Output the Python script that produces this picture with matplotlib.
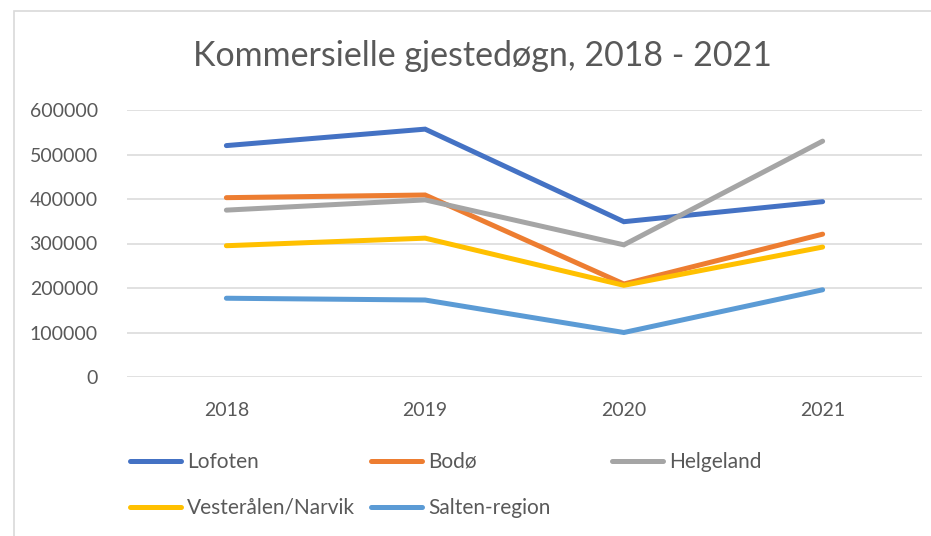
import matplotlib.pyplot as plt
import matplotlib.patches as mpatches

# ── Data ──────────────────────────────────────────────────────────────────────
years = ["2018", "2019", "2020", "2021"]
series_names = ["Lofoten", "Bodø", "Helgeland", "Vesterålen/Narvik", "Salten-region"]
lofoten    = [520000, 557000, 349000, 394000]
bodo       = [403000, 409000, 209000, 321000]
helgeland  = [375000, 398000, 297000, 530000]
vesteralen = [295000, 312000, 206000, 292000]
salten     = [177000, 173000, 100000, 196000]
colors = ["#4472C4", "#ED7D31", "#A5A5A5", "#FFC000", "#5B9BD5"]
yticks = [0, 100000, 200000, 300000, 400000, 500000, 600000]

W, H = 931, 536
TXT = "#595959"
plt.rcParams["font.family"] = ["Lato", "DejaVu Sans"]

fig = plt.figure(figsize=(W / 100, H / 100), dpi=100, facecolor="white")
ax = fig.add_axes([127 / W, 1 - 377 / H, (922 - 127) / W, (377 - 110) / H])

# chart-area border (runs off the right and bottom edges)
fig.add_artist(mpatches.Rectangle((14 / W, -0.05), 1.0, 1.05 - 11 / H,
                                  transform=fig.transFigure, fill=False,
                                  edgecolor="#D9D9D9", linewidth=1.2))

x = range(len(years))
for name, vals, c in zip(series_names, [lofoten, bodo, helgeland, vesteralen, salten], colors):
    ax.plot(x, vals, color=c, linewidth=3.6, solid_capstyle="round",
            solid_joinstyle="miter", label=name)

ax.set_xlim(-0.5, len(years) - 0.5)
ax.set_ylim(0, 600000)
ax.set_yticks(yticks)
ax.set_yticklabels([str(v) for v in yticks])
ax.set_xticks(list(x))
ax.set_xticklabels(years)
ax.grid(axis="y", color="#D9D9D9", linewidth=1.1)
ax.set_axisbelow(True)
for s in ax.spines.values():
    s.set_visible(False)
ax.tick_params(length=0, colors=TXT, labelsize=14)
ax.tick_params(axis="y", pad=21)
ax.tick_params(axis="x", pad=18)

fig.text(482.5 / W, 1 - 56 / H, "Kommersielle gjestedøgn, 2018 - 2021",
         ha="center", va="center", fontsize=24.5, color=TXT)

# legend: Excel-style fixed grid, one entry per cell
handles, labels = ax.get_legend_handles_labels()
for i, (h, l) in enumerate(zip(handles, labels)):
    col, row = i % 3, i // 3
    lx = (129.5 + 241 * col) / W
    ly = 1 - (462 + 46 * row) / H
    fig.legend([h], [l], loc="center left", bbox_to_anchor=(lx, ly),
               frameon=False, fontsize=15, labelcolor=TXT,
               handlelength=2.45, handletextpad=0.31, borderpad=0,
               borderaxespad=0)

fig.savefig("out.png", dpi=100, facecolor="white")
